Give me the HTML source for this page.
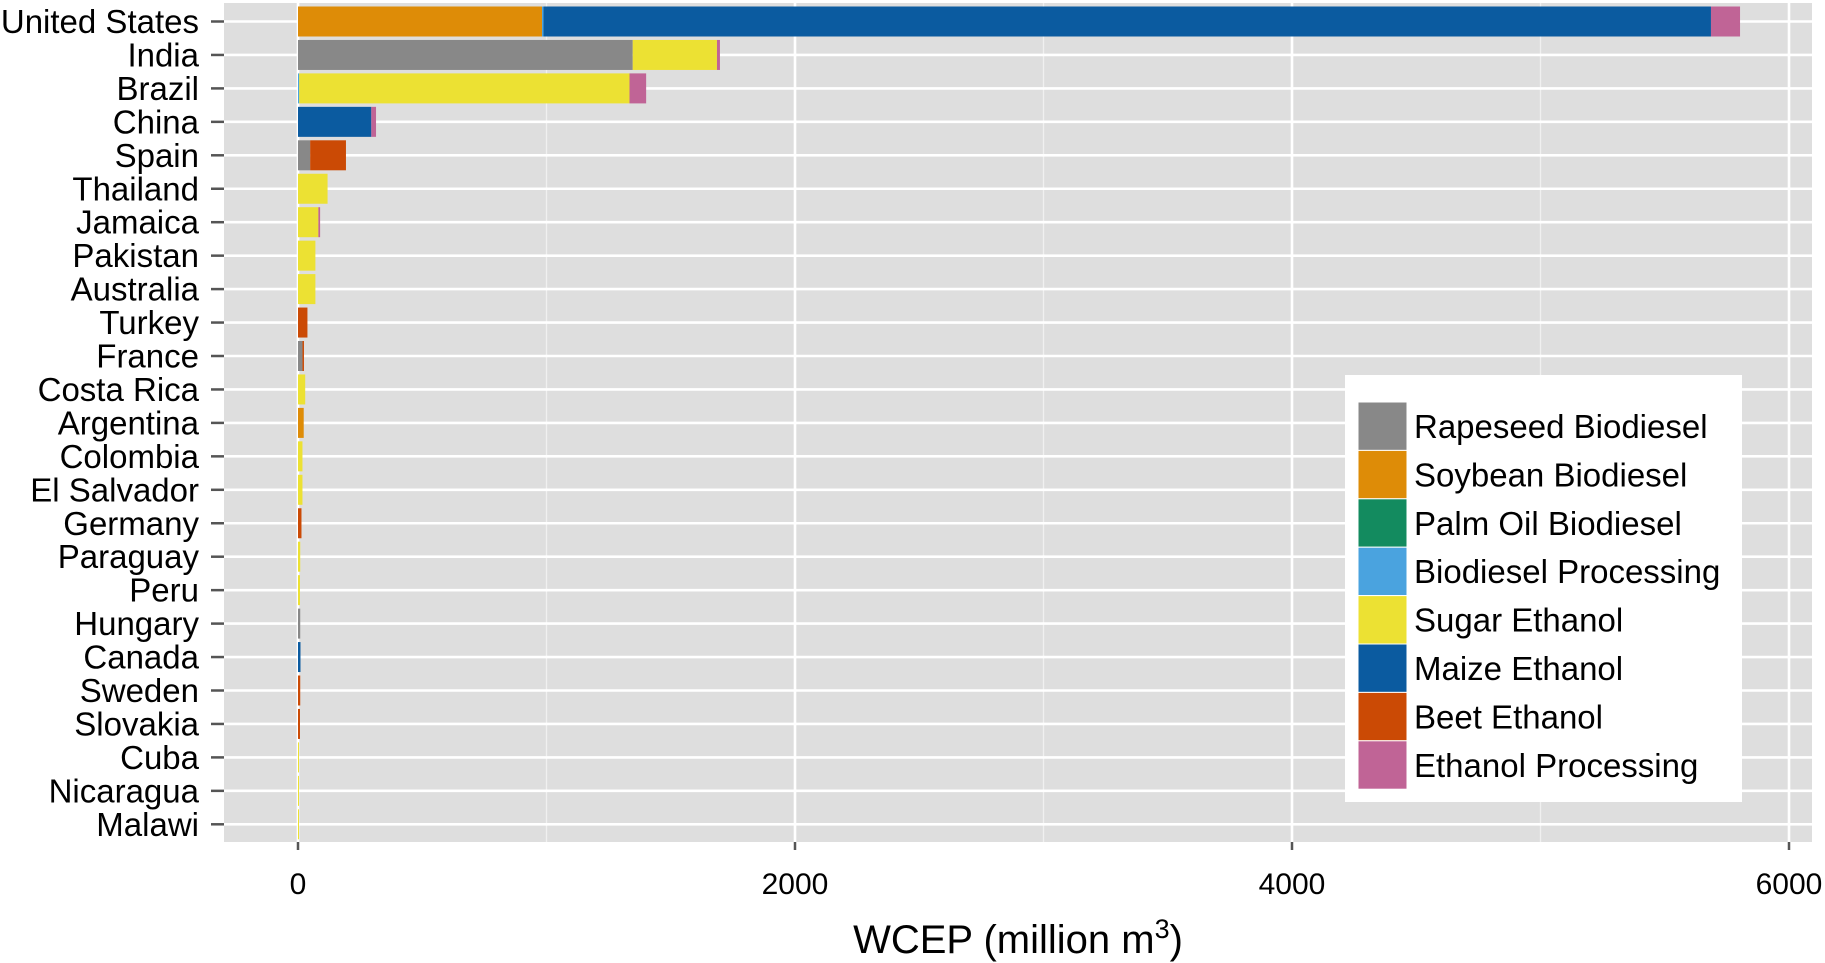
<!DOCTYPE html>
<html><head><meta charset="utf-8"><style>
html,body{margin:0;padding:0;background:#fff;}
svg{display:block;font-family:"Liberation Sans",sans-serif;}
</style></head><body>
<svg id="chart" width="1825" height="963" viewBox="0 0 1825 963"></svg>
<script>
const countries=["United States","India","Brazil","China","Spain","Thailand","Jamaica","Pakistan","Australia","Turkey","France","Costa Rica","Argentina","Colombia","El Salvador","Germany","Paraguay","Peru","Hungary","Canada","Sweden","Slovakia","Cuba","Nicaragua","Malawi"];
const seriesNames=["Rapeseed Biodiesel","Soybean Biodiesel","Palm Oil Biodiesel","Biodiesel Processing","Sugar Ethanol","Maize Ethanol","Beet Ethanol","Ethanol Processing"];
const seriesColors=["#888888","#DE8C07","#138B5F","#4AA3DF","#ECE133","#0B5BA0","#CB4A05","#C06496"];
const rapeseed=[0,1347,0,0,49,0,0,0,0,0,18,0,0,0,0,0,0,0,9,0,0,0,0,0,0];
const soybean=[982,0,0,0,0,0,0,0,0,0,0,0,23,0,0,0,0,0,0,0,0,0,0,0,0];
const palm=[0,0,0,0,0,0,0,0,0,0,0,0,0,0,0,0,0,0,0,0,0,0,0,0,0];
const bioProc=[6,0,5,0,0,0,0,0,0,0,0,0,0,0,0,0,0,0,0,0,0,0,0,0,0];
const sugar=[0,339,1329,0,0,119,82,70,70,0,0,29,0,18,18,0,9,8,0,0,0,0,4,4,3];
const maize=[4698,0,0,295,0,0,0,0,0,0,0,0,0,0,0,0,0,0,0,10,0,0,0,0,0];
const beet=[0,0,0,0,144,0,0,0,0,38,6,0,0,0,0,14,0,0,0,0,9,8,0,0,0];
const ethProc=[117,12,67,19,0,0,7,0,0,0,0,0,0,0,0,0,0,0,0,0,0,0,0,0,0];
const series=[rapeseed,soybean,palm,bioProc,sugar,maize,beet,ethProc];
const xMajor=[0,2000,4000,6000];
const xMinor=[1000,3000,5000];

const NS="http://www.w3.org/2000/svg";
const svg=document.getElementById("chart");
const P={l:224,r:1812,t:3,b:842};
const x=v=>298+v*0.2485;
const y=i=>21.5+i*33.45;
function el(tag,attrs,parent){const e=document.createElementNS(NS,tag);for(const k in attrs)e.setAttribute(k,attrs[k]);(parent||svg).appendChild(e);return e;}

const panel=el("rect",{x:P.l,y:P.t,width:P.r-P.l,height:P.b-P.t,fill:"#dedede"});


xMinor.forEach(v=>{const g=el("line",{x1:x(v),x2:x(v),y1:P.t,y2:P.b,stroke:"#f0f0f0","stroke-width":1.3});

});
xMajor.forEach(v=>{const g=el("line",{x1:x(v),x2:x(v),y1:P.t,y2:P.b,stroke:"#fff","stroke-width":2.6});

});
countries.forEach((c,i)=>{const g=el("line",{x1:P.l,x2:P.r,y1:y(i),y2:y(i),stroke:"#fff","stroke-width":2.6});

});

countries.forEach((c,i)=>{
  let acc=0;
  series.forEach((s,k)=>{
    const v=s[i]; if(v<=0) return;
    const r=el("rect",{x:x(acc),y:y(i)-15,width:Math.max(x(acc+v)-x(acc),1),height:30,fill:seriesColors[k]});
    
    
    acc+=v;
  });
  const t=el("text",{x:199,y:y(i)+11.5,"text-anchor":"end","font-size":33,fill:"#000"});
  t.textContent=c;
  
  
  const tk=el("line",{x1:211,x2:224,y1:y(i),y2:y(i),stroke:"#555","stroke-width":2.5});
  
  
});

xMajor.forEach(v=>{
  const tk=el("line",{x1:x(v),x2:x(v),y1:P.b,y2:P.b+8,stroke:"#555","stroke-width":2.5});
  
  
  const t=el("text",{x:x(v),y:894,"text-anchor":"middle","font-size":30,fill:"#000"});
  t.textContent=String(v);
  
  
});

const title=el("text",{x:1018,y:953,"text-anchor":"middle","font-size":40,fill:"#000"});
title.innerHTML='WCEP (million m<tspan dy="-15" font-size="27">3</tspan><tspan dy="15">)</tspan>';



const lg=el("g",{});


const lb=el("rect",{x:1345,y:375,width:397,height:427,fill:"#fff"},lg);


seriesNames.forEach((n,k)=>{
  const ty=402+k*48.4;
  const sw=el("rect",{x:1358,y:ty,width:49,height:48.4,fill:seriesColors[k],stroke:"#fff","stroke-width":1},lg);
  
  
  const t=el("text",{x:1414,y:ty+36,"font-size":33,fill:"#000"},lg);
  t.textContent=n;
  
  
});
</script>
</body></html>
